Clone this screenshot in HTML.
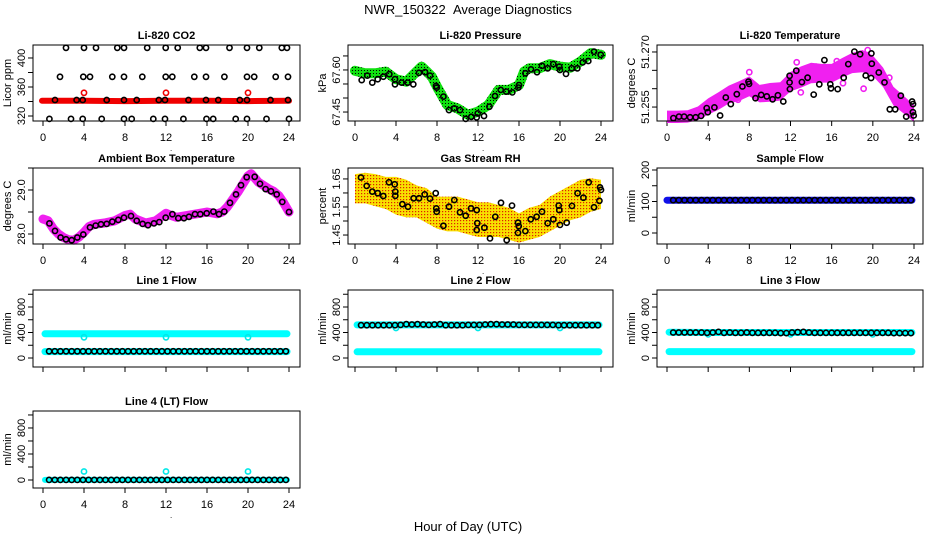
<!DOCTYPE html>
<html><head><meta charset="utf-8"><title>NWR_150322 Average Diagnostics</title>
<style>
html,body{margin:0;padding:0;background:#fff;}
svg{display:block;font-family:"Liberation Sans",Arial,sans-serif;}
</style></head>
<body>
<svg id="chart" width="936" height="540" viewBox="0 0 936 540" xmlns="http://www.w3.org/2000/svg">
<defs>
<pattern id="greenDots" width="3" height="3" patternUnits="userSpaceOnUse"><rect width="3" height="3" fill="#10e010"/><rect x="1" y="1" width="1" height="1" fill="#000"/></pattern>
<pattern id="rhDots" width="3" height="3" patternUnits="userSpaceOnUse"><rect width="3" height="3" fill="#f8e000"/><rect x="1" y="1" width="1.2" height="1.2" fill="#e02000"/></pattern>
</defs>
<text x="468" y="14" font-size="13" text-anchor="middle">NWR_150322 &#160;Average Diagnostics</text>
<text x="468" y="531" font-size="13" text-anchor="middle">Hour of Day (UTC)</text>
<g id="plots"></g>
</svg>
<script>
// ---------- DATA ----------
const xTicks = [0,4,8,12,16,20,24];
// CO2
const co2BlackHours = [2.24,4.0,5.17,7.25,7.9,10.17,11.97,13.14,15.3,15.9,18.2,19.9,21.1,23.3,23.8,
 1.66,3.93,4.59,6.76,7.9,9.69,11.97,12.61,14.76,15.9,17.7,19.9,20.6,22.7,23.9,
 1.17,3.28,3.87,6.21,7.9,9.14,11.3,11.9,14.2,15.9,17.1,19.2,19.9,22.2,23.9,
 0.62,2.73,3.87,5.73,7.9,8.65,10.76,11.9,13.7,15.95,16.6,18.8,19.9,21.8,24.0];
const co2BlackPpm = [414,414,414,414,414,414,414,414,414,414,414,414,414,414,414,
 374,374,374,374,374,374,374,374,374,374,374,374,374,374,374,
 342,342,342,342,342,342,342,342,342,342,342,342,342,342,342,
 316,316,316,316,316,316,316,316,316,316,316,316,316,316,316];
const co2RedHours = [-0.1,4,8,12,16,20,24];
const co2RedPpm = [341,341,340.5,341,341,340.5,341];
const spikeHours = [4,12,20];
const co2RedSpike = [352,352,352];
// Pressure
const presGreenHours = [0,1,2,3,4,5,6,6.5,7,7.5,8,9,10,11,12,13,14,15,16,16.5,17,18,19,20,21,22,23,24];
const presGreenKpa = [67.597,67.588,67.588,67.594,67.567,67.558,67.594,67.612,67.594,67.576,67.54,67.475,67.463,67.44,67.451,67.475,67.529,67.529,67.546,67.594,67.606,67.606,67.621,67.612,67.608,67.63,67.66,67.654];
const presBlackHours = [0.65,1.2,1.69,2.21,2.76,3.35,3.9,3.9,4.55,5.14,5.69,6.24,6.83,7.32,7.9,7.97,8.62,9.17,9.69,10.24,10.8,11.35,11.87,11.97,12.59,13.11,13.66,14.21,14.76,15.35,15.93,16.0,16.62,17.17,17.76,18.24,18.8,19.35,19.93,20.0,20.59,21.14,21.69,22.21,22.76,23.32,23.97];
const presBlackKpa = [67.564,67.58,67.555,67.567,67.576,67.585,67.567,67.549,67.555,67.555,67.549,67.59,67.592,67.58,67.543,67.537,67.505,67.457,67.463,67.457,67.426,67.433,67.431,67.445,67.436,67.469,67.507,67.529,67.523,67.52,67.537,67.546,67.588,67.602,67.592,67.615,67.606,67.621,67.612,67.6,67.586,67.606,67.606,67.627,67.632,67.665,67.654];
// Li-820 temperature
const bandHours = [0,1,2,3,4,5,6,7,8,9,10,11,12,13,14,15,16,17,18,19,20,21,22,23,24];
const ltempLo = [51.2512,51.2512,51.2513,51.2520,51.2535,51.2548,51.2565,51.2572,51.2585,51.2568,51.2570,51.2573,51.2598,51.2608,51.2620,51.2622,51.2622,51.2636,51.2648,51.2650,51.2640,51.2610,51.2560,51.2538,51.2515];
const ltempHi = [51.2535,51.2535,51.2536,51.2546,51.2568,51.2585,51.2603,51.2615,51.2628,51.2605,51.2610,51.2612,51.2640,51.2655,51.2665,51.2662,51.2662,51.2678,51.2692,51.2700,51.2685,51.2652,51.2600,51.2575,51.2550];
const ltempOutHours = [8.0,12.6,14.5,16.5,19.5,19.1,21.6,13.0,17.1,6.9];
const ltempOutVals = [51.2645,51.2672,51.2660,51.2675,51.2705,51.2600,51.2630,51.2590,51.2615,51.2570];
const ltempBlackHours = [0.62,1.17,1.66,2.24,2.79,3.31,3.86,3.96,4.61,5.16,5.71,6.2,6.78,7.33,7.92,7.98,8.6,9.15,9.7,10.26,10.78,11.3,11.91,11.91,11.94,12.56,13.11,13.66,14.25,14.8,15.29,15.87,15.94,16.59,17.17,17.62,18.21,18.76,19.31,19.83,19.86,19.9,20.58,21.13,21.65,22.17,22.72,23.24,23.82,23.89,23.9,23.97];
const ltempBlackVals = [51.252,51.2524,51.2524,51.2522,51.2522,51.2526,51.2547,51.2536,51.2549,51.2527,51.2576,51.2558,51.2585,51.2606,51.2619,51.2613,51.2574,51.2583,51.2579,51.2571,51.2582,51.2565,51.2617,51.2635,51.2599,51.2649,51.2618,51.263,51.2584,51.2612,51.2678,51.2612,51.2601,51.2599,51.263,51.2667,51.2701,51.2694,51.2636,51.2629,51.2696,51.2668,51.2644,51.2617,51.2544,51.2544,51.2581,51.2524,51.2565,51.2536,51.2558,51.2527];
// Ambient box temp
const ambMagHours = [0,0.5,1,1.5,2,2.5,3,3.5,4,4.5,5,6,7,8,8.5,9,10,11,12,12.5,13,14,15,16,17,17.5,18,19,20,20.3,21,22,22.5,23,23.5,24];
const ambMagVals = [28.34,28.30,28.12,28.0,27.92,27.87,27.86,27.93,28.04,28.17,28.22,28.25,28.30,28.42,28.45,28.34,28.25,28.30,28.47,28.42,28.38,28.42,28.46,28.50,28.46,28.50,28.62,28.95,29.32,29.37,29.18,29.03,28.97,28.87,28.70,28.50];
const ambBlackHours = [0.62,1.17,1.72,2.24,2.8,3.35,3.93,4.59,5.14,5.66,6.21,6.76,7.35,7.9,8.59,9.14,9.72,10.24,10.83,11.35,11.97,12.62,13.2,13.76,14.24,14.83,15.35,15.97,16.62,17.17,17.69,18.24,18.83,19.32,19.87,20.65,21.17,21.72,22.24,22.8,23.35,24.0];
const ambBlackVals = [28.24,28.07,27.92,27.88,27.86,27.92,27.99,28.15,28.19,28.22,28.23,28.28,28.32,28.37,28.41,28.30,28.23,28.20,28.24,28.27,28.37,28.45,28.36,28.36,28.39,28.45,28.45,28.47,28.51,28.45,28.51,28.71,28.90,29.11,29.29,29.30,29.14,29.02,28.97,28.90,28.73,28.50];
// Gas stream RH
const rhHi = [1.66,1.665,1.66,1.65,1.65,1.64,1.62,1.61,1.58,1.58,1.58,1.57,1.56,1.56,1.55,1.54,1.52,1.54,1.55,1.58,1.60,1.62,1.64,1.645,1.64];
const rhLo = [1.57,1.57,1.56,1.55,1.53,1.52,1.52,1.50,1.48,1.47,1.47,1.46,1.45,1.45,1.45,1.44,1.43,1.44,1.45,1.47,1.49,1.51,1.52,1.54,1.55];
const rhBlackHours = [0.59,1.14,1.69,2.21,2.76,3.32,3.87,3.93,3.93,4.62,5.17,5.72,6.24,6.8,7.32,7.87,7.93,7.97,8.62,9.17,9.69,10.24,10.8,11.32,11.87,11.93,11.87,12.62,13.17,13.69,14.24,14.8,15.32,15.9,15.97,15.9,16.62,17.14,17.72,18.24,18.8,19.35,19.87,19.93,20.0,20.65,21.17,21.72,22.28,22.8,23.32,23.84,23.9,24.0];
const rhBlackVals = [1.655,1.625,1.605,1.599,1.589,1.638,1.631,1.605,1.59,1.56,1.551,1.581,1.581,1.595,1.58,1.599,1.545,1.533,1.483,1.551,1.575,1.531,1.519,1.545,1.539,1.492,1.468,1.476,1.438,1.515,1.565,1.432,1.555,1.494,1.482,1.458,1.464,1.506,1.515,1.533,1.492,1.506,1.555,1.539,1.486,1.494,1.554,1.599,1.583,1.638,1.549,1.572,1.62,1.611];
// Flows
const flowHours = [0.6,1.15,1.7,2.25,2.8,3.35,3.9,4.45,5,5.55,6.1,6.65,7.2,7.75,8.3,8.85,9.4,9.95,10.5,11.05,11.6,12.15,12.7,13.25,13.8,14.35,14.9,15.45,16,16.55,17.1,17.65,18.2,18.75,19.3,19.85,20.4,20.95,21.5,22.05,22.6,23.15,23.7];
const sampleBlack = [104,104,104,104,104,104,104,104,104,104,104,104,104,104,104,104,104,104,104,104,104,104,104,104,104,104,104,104,104,104,104,104,104,104,104,104,104,104,104,104,104,104,104];
const line1Black = [105,105,105,105,105,105,105,105,105,105,105,105,105,105,105,105,105,105,105,105,105,105,105,105,105,105,105,105,105,105,105,105,105,105,105,105,105,105,105,105,105,105,105];
const line2Black = [515,515,515,515,515,515,515,520,530,525,530,525,520,525,530,515,515,515,515,520,520,520,525,530,530,525,525,525,520,520,520,520,520,520,520,515,515,515,515,515,515,515,515];
const line3Black = [400,400,400,400,400,400,395,400,410,395,400,395,395,400,395,395,395,395,395,390,390,400,405,410,400,395,395,395,395,395,395,395,395,395,395,395,395,395,395,390,390,390,390];
const line4Black = [2,2,2,2,2,2,2,2,2,2,2,2,2,2,2,2,2,2,2,2,2,2,2,2,2,2,2,2,2,2,2,2,2,2,2,2,2,2,2,2,2,2,2];
const cyanHours = [0.2,4,8,12,16,20,23.8];
const sampleBlue = [104,104,104,104,104,104,104];
const line1CyanHi = [380,382,382,382,382,382,380];
const line1CyanLo = [100,100,100,100,100,100,100];
const line2CyanHi = [520,520,520,520,520,520,520];
const line2CyanLo = [98,98,98,98,98,98,98];
const line3CyanHi = [405,400,400,400,400,400,400];
const line3CyanLo = [100,100,100,100,100,100,100];
const line4Cyan = [2,2,2,2,2,2,2];
const line1Spike = [325,325,325];
const line2Spike = [470,470,470];
const line3Spike = [370,370,370];
const line4Spike = [130,130,130];

// ---------- LAYOUT ----------
const NS = "http://www.w3.org/2000/svg";
const root = document.getElementById("plots");
const cols = [{l:33,r:300,x0:43,x24:289},{l:348,r:613,x0:355,x24:601},{l:657,r:923,x0:667,x24:914}];
const rows = [{t:45,b:121},{t:168,b:244},{t:290,b:367},{t:411,b:488}];

function mk(parent, tag, attrs, name){
  const el = document.createElementNS(NS, tag);
  for (const k in attrs) el.setAttribute(k, attrs[k]);
  
  
  parent.appendChild(el);
  return el;
}

function panel(cfg){
  const c = cols[cfg.col], r = rows[cfg.row];
  const g = mk(root, "g", {}, cfg.name);
  const xs = h => c.x0 + h*(c.x24-c.x0)/24;
  const ys = v => r.b - (v-cfg.ylo)/(cfg.yhi-cfg.ylo)*(r.b-r.t);
  const P = {g, xs, ys, c, r};
  const t = mk(g, "text", {x:(c.l+c.r)/2, y:r.t-6, "font-size":11, "font-weight":"bold", "text-anchor":"middle"}, "panel-title");
  t.textContent = cfg.title;
  mk(g, "line", {x1:xs(0), x2:xs(24), y1:r.b, y2:r.b, stroke:"#000"}, "x-axis-line");
  xTicks.forEach(v=>{
    mk(g, "line", {x1:xs(v), x2:xs(v), y1:r.b, y2:r.b+5, stroke:"#000"}, "x-tick");
    if (!cfg.noXLabels){
      const tl = mk(g, "text", {x:xs(v), y:r.b+20, "font-size":11, "text-anchor":"middle"}, "x-tick-label");
      tl.textContent = v;
    }
  });
  if (!cfg.noXLabels){
    const d = mk(g, "text", {x:xs(12.5), y:r.b+30, "font-size":8, "text-anchor":"middle"}, "x-label-dot");
    d.textContent = ".";
  }
  cfg.yTicks.forEach(v=>{
    mk(g, "line", {x1:c.l-5, x2:c.l, y1:ys(v), y2:ys(v), stroke:"#000"}, "y-tick");
  });
  cfg.yLabels.forEach((v,i)=>{
    const yl = mk(g, "text", {transform:`translate(${c.l-8},${ys(v)}) rotate(-90)`, "font-size":11, "text-anchor":"middle"}, "y-tick-label");
    yl.textContent = cfg.yLabelText[i];
  });
  const yt = mk(g, "text", {transform:`translate(${c.l-22},${(r.t+r.b)/2}) rotate(-90)`, "font-size":11, "text-anchor":"middle"}, "y-axis-title");
  yt.textContent = cfg.ylab;
  P.box = () => mk(g, "rect", {x:c.l, y:r.t, width:c.r-c.l, height:r.b-r.t, fill:"none", stroke:"#000"}, "plot-frame");
  return P;
}
function line(P, hs, vs, stroke, w, name){
  const pts = hs.map((h,i)=>`${P.xs(h).toFixed(1)},${P.ys(vs[i]).toFixed(1)}`).join(" ");
  mk(P.g, "polyline", {points:pts, fill:"none", stroke, "stroke-width":w, "stroke-linejoin":"round", "stroke-linecap":"round"}, name);
}
function band(P, hs, lo, hi, fill, name){
  const top = hs.map((h,i)=>`${P.xs(h).toFixed(1)},${(P.ys(hi[i])-2).toFixed(1)}`);
  const bot = hs.map((h,i)=>`${P.xs(h).toFixed(1)},${(P.ys(lo[i])+2).toFixed(1)}`).reverse();
  mk(P.g, "polygon", {points:top.concat(bot).join(" "), fill, stroke:"none"}, name);
}
function pts(P, hs, vs, stroke, name){
  hs.forEach((h,i)=>{
    mk(P.g, "circle", {cx:P.xs(h).toFixed(1), cy:P.ys(vs[i]).toFixed(1), r:2.6, fill:"none", stroke, "stroke-width":1.6}, name);
  });
}

// ---------- PANELS ----------
let P;
P = panel({name:"panel-co2", col:0,row:0,title:"Li-820 CO2", ylab:"Licor ppm", ylo:313.1, yhi:417.9,
  yTicks:[320,340,360,380,400], yLabels:[320,360,400], yLabelText:["320","360","400"]});
line(P, co2RedHours, co2RedPpm, "#f00000", 6, "co2-red-series");
pts(P, spikeHours, co2RedSpike, "#f00000", "co2-red-spike");
pts(P, co2BlackHours, co2BlackPpm, "#000", "co2-black-point");
P.box();

P = panel({name:"panel-pressure", col:1,row:0,title:"Li-820 Pressure", ylab:"kPa", ylo:67.418, yhi:67.689,
  yTicks:[67.45,67.50,67.55,67.60,67.65], yLabels:[67.45,67.60], yLabelText:["67.45","67.60"]});
line(P, presGreenHours, presGreenKpa, "url(#greenDots)", 10, "pressure-green-series");
pts(P, presBlackHours, presBlackKpa, "#000", "pressure-black-point");
P.box();

P = panel({name:"panel-li820-temp", col:2,row:0,title:"Li-820 Temperature", ylab:"degrees C", ylo:51.2512, yhi:51.2719,
  yTicks:[51.255,51.260,51.265,51.270], yLabels:[51.255,51.270], yLabelText:["51.255","51.270"]});
band(P, bandHours, ltempLo, ltempHi, "#f020f0", "li820-temp-magenta-cloud");
pts(P, ltempOutHours, ltempOutVals, "#f020f0", "li820-temp-magenta-outlier");
pts(P, ltempBlackHours, ltempBlackVals, "#000", "li820-temp-black-point");
P.box();

P = panel({name:"panel-ambient-temp", col:0,row:1,title:"Ambient Box Temperature", ylab:"degrees C", ylo:27.773, yhi:29.5,
  yTicks:[28.0,28.5,29.0,29.5], yLabels:[28.0,29.0], yLabelText:["28.0","29.0"]});
line(P, ambMagHours, ambMagVals, "#f020f0", 9, "ambient-magenta-series");
pts(P, ambBlackHours, ambBlackVals, "#000", "ambient-black-point");
P.box();

P = panel({name:"panel-rh", col:1,row:1,title:"Gas Stream RH", ylab:"percent", ylo:1.418, yhi:1.689,
  yTicks:[1.45,1.50,1.55,1.60,1.65], yLabels:[1.45,1.55,1.65], yLabelText:["1.45","1.55","1.65"]});
band(P, bandHours, rhLo, rhHi, "url(#rhDots)", "rh-orange-cloud");
pts(P, rhBlackHours, rhBlackVals, "#000", "rh-black-point");
P.box();

P = panel({name:"panel-sample-flow", col:2,row:1,title:"Sample Flow", ylab:"ml/min", ylo:-34.9, yhi:206.3,
  yTicks:[0,50,100,150,200], yLabels:[0,100,200], yLabelText:["0","100","200"]});
line(P, cyanHours.map((h,i)=>i===0?0:h), sampleBlue, "#1010e8", 7, "sample-flow-blue-series");
pts(P, flowHours, sampleBlack, "#000", "sample-flow-black-point");
P.box();

const flowTicks = [0,200,400,600,800,1000], flowLabels=[0,400,800], flowText=["0","400","800"];
P = panel({name:"panel-line1-flow", col:0,row:2,title:"Line 1 Flow", ylab:"ml/min", ylo:-141, yhi:1066.7,
  yTicks:flowTicks, yLabels:flowLabels, yLabelText:flowText, noXLabels:true});
line(P, cyanHours, line1CyanHi, "#00ffff", 7, "line1-cyan-upper");
line(P, cyanHours, line1CyanLo, "#00ffff", 7, "line1-cyan-lower");
pts(P, spikeHours, line1Spike, "#00e8e8", "line1-cyan-spike");
pts(P, flowHours, line1Black, "#000", "line1-black-point");
P.box();

P = panel({name:"panel-line2-flow", col:1,row:2,title:"Line 2 Flow", ylab:"ml/min", ylo:-141, yhi:1066.7,
  yTicks:flowTicks, yLabels:flowLabels, yLabelText:flowText, noXLabels:true});
line(P, cyanHours, line2CyanHi, "#00ffff", 7, "line2-cyan-upper");
line(P, cyanHours, line2CyanLo, "#00ffff", 7, "line2-cyan-lower");
pts(P, spikeHours, line2Spike, "#00e8e8", "line2-cyan-spike");
pts(P, flowHours, line2Black, "#000", "line2-black-point");
P.box();

P = panel({name:"panel-line3-flow", col:2,row:2,title:"Line 3 Flow", ylab:"ml/min", ylo:-141, yhi:1066.7,
  yTicks:flowTicks, yLabels:flowLabels, yLabelText:flowText, noXLabels:true});
line(P, cyanHours, line3CyanHi, "#00ffff", 7, "line3-cyan-upper");
line(P, cyanHours, line3CyanLo, "#00ffff", 7, "line3-cyan-lower");
pts(P, spikeHours, line3Spike, "#00e8e8", "line3-cyan-spike");
pts(P, flowHours, line3Black, "#000", "line3-black-point");
P.box();

P = panel({name:"panel-line4-flow", col:0,row:3,title:"Line 4 (LT) Flow", ylab:"ml/min", ylo:-123, yhi:1061,
  yTicks:flowTicks, yLabels:flowLabels, yLabelText:flowText});
line(P, cyanHours, line4Cyan, "#00ffff", 6, "line4-cyan-series");
pts(P, spikeHours, line4Spike, "#00e8e8", "line4-cyan-spike");
pts(P, flowHours, line4Black, "#000", "line4-black-point");
P.box();
</script>
</body></html>
